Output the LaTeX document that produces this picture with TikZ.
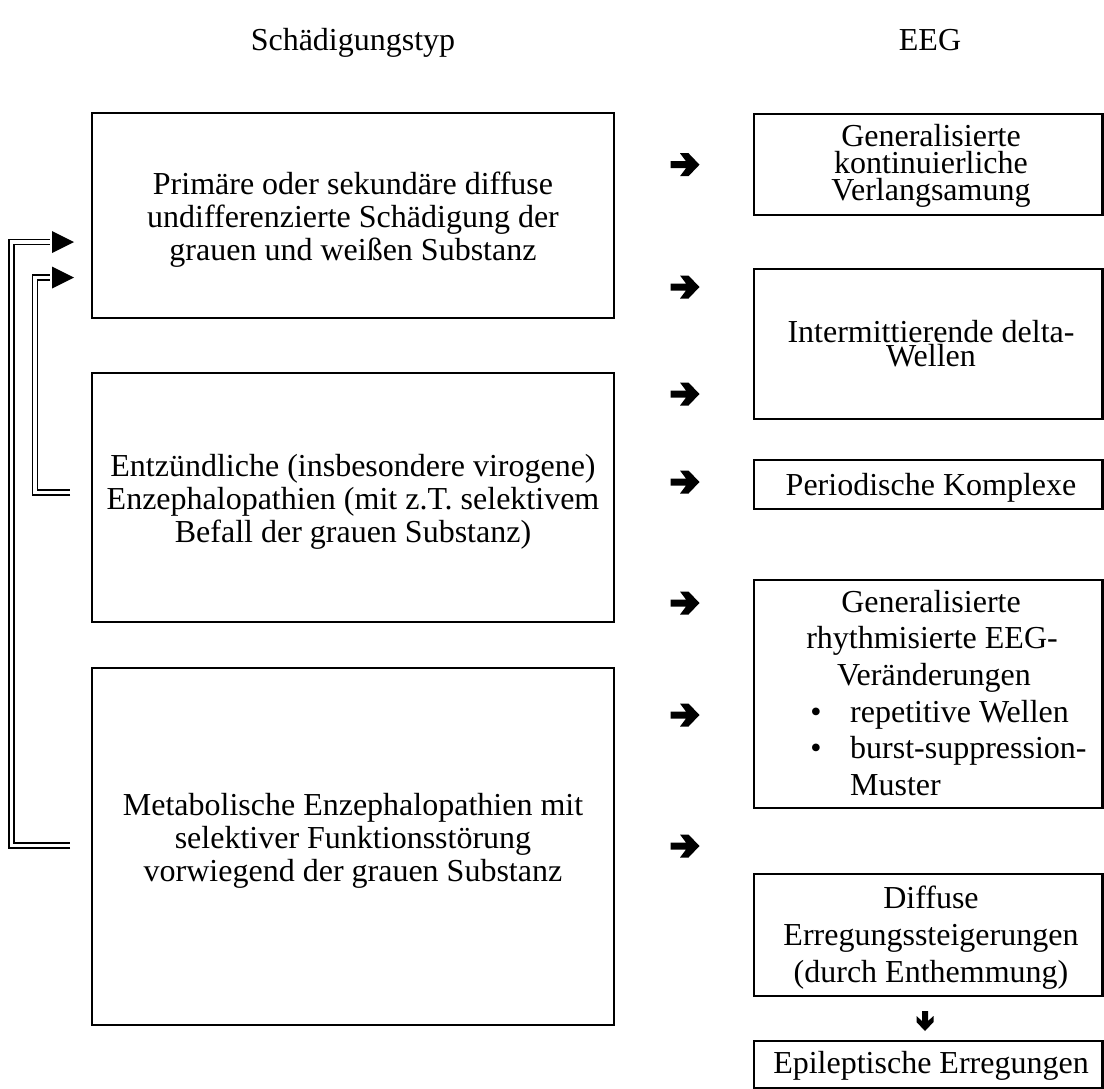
\documentclass[tikz,border=0pt]{standalone}
\usepackage{fontspec}
\setmainfont{Liberation Serif}
\begin{document}
\begin{tikzpicture}[x=1pt,y=-1pt,
  txt/.style={font=\fontsize{32}{36.8}\selectfont, inner sep=0pt, anchor=base},
  frame/.style={draw, line width=2.6pt, inner sep=0pt},
  link/.style={double, line width=1.5pt, double distance=3.5pt},
  fatarrow/.pic={\fill (-14.5,-3.5) -- (1,-3.5) -- (-5,-11.5) -- (3.5,-11.5) -- (14.5,0)
                  -- (3.5,11.5) -- (-5,11.5) -- (1,3.5) -- (-14.5,3.5) -- cycle;},
  downarrow/.pic={\fill (-3,-10) -- (-3,0) -- (-8.5,-5) -- (-8.5,1) -- (0,10)
                  -- (8.5,1) -- (8.5,-5) -- (3,0) -- (3,-10) -- cycle;}
]
\useasboundingbox (0,0) rectangle (1104,1088);

% column headings
\node[txt] (h1) at (353,50) {Schädigungstyp};
\node[txt] (h2) at (930,50) {EEG};

% kinds of damage (frames)
\node[frame, minimum width=522pt, minimum height=205pt] (b1) at (353,215.5) {};
\node[frame, minimum width=522pt, minimum height=249pt] (b2) at (353,497.5) {};
\node[frame, minimum width=522pt, minimum height=357pt] (b3) at (353,846.5) {};
% kinds of damage (text, one node per line)
\node[txt] (b1a) at (353,194) {Primäre oder sekundäre diffuse};
\node[txt] (b1b) at (353,227) {undifferenzierte Schädigung der};
\node[txt] (b1c) at (353,260) {grauen und weißen Substanz};
\node[txt] (b2a) at (353,476) {Entzündliche (insbesondere virogene)};
\node[txt] (b2b) at (353,509) {Enzephalopathien (mit z.T. selektivem};
\node[txt] (b2c) at (353,542) {Befall der grauen Substanz)};
\node[txt] (b3a) at (353,815) {Metabolische Enzephalopathien mit};
\node[txt] (b3b) at (353,848) {selektiver Funktionsstörung};
\node[txt] (b3c) at (353,881) {vorwiegend der grauen Substanz};

% EEG findings (frames)
\node[frame, minimum width=348.5pt, minimum height=101pt] (r1) at (928.25,164.5) {};
\node[frame, minimum width=348.5pt, minimum height=150pt] (r2) at (928.25,344) {};
\node[frame, minimum width=348.5pt, minimum height=49pt]  (r3) at (928.25,484.5) {};
\node[frame, minimum width=348.5pt, minimum height=228pt] (r4) at (928.25,694) {};
\node[frame, minimum width=348.5pt, minimum height=122pt] (r5) at (928.25,935) {};
\node[frame, minimum width=348.5pt, minimum height=47pt]  (r6) at (928.25,1064.5) {};
% EEG findings (text)
\node[txt] (r1a) at (931,146) {Generalisierte};
\node[txt] (r1b) at (931,173) {kontinuierliche};
\node[txt] (r1c) at (931,200) {Verlangsamung};
\node[txt] (r2a) at (931,342) {Intermittierende delta-};
\node[txt] (r2b) at (931,366) {Wellen};
\node[txt] (r3a) at (931,495) {Periodische Komplexe};
\node[txt] (r4a) at (931,612) {Generalisierte};
\node[txt] (r4b) at (932,648.7) {rhythmisierte EEG-};
\node[txt] (r4c) at (934,685.4) {Veränderungen};
\node[txt] (r4d) at (816,722) {\textbullet};
\node[txt, anchor=base west] (r4e) at (850,722) {repetitive Wellen};
\node[txt] (r4f) at (816,758.8) {\textbullet};
\node[txt, anchor=base west] (r4g) at (850,758.8) {burst-suppression-};
\node[txt, anchor=base west] (r4h) at (850,795.5) {Muster};
\node[txt] (r5a) at (931,908) {Diffuse};
\node[txt] (r5b) at (931,945) {Erregungssteigerungen};
\node[txt] (r5c) at (931,982) {(durch Enthemmung)};
\node[txt] (r6a) at (931,1073) {Epileptische Erregungen};

% arrows between the columns
\foreach \y in {164.7,287,394,482,603,715,846}
  \pic at (685,\y) {fatarrow};
\pic at (925,1021) {downarrow};

% feedback links on the left
\coordinate (o1) at (70,845.5);
\coordinate (o2) at (50,242);
\coordinate (i1) at (70,492.5);
\coordinate (i2) at (50,277.5);
\draw[link] (o1) -| (11.5,242) -- (o2);
\draw[link] (i1) -| (35,277.5) -- (i2);
\fill (52,231) -- (74,242) -- (52,253) -- cycle;
\fill (52,266.5) -- (74,277.5) -- (52,288.5) -- cycle;
\end{tikzpicture}
\end{document}
